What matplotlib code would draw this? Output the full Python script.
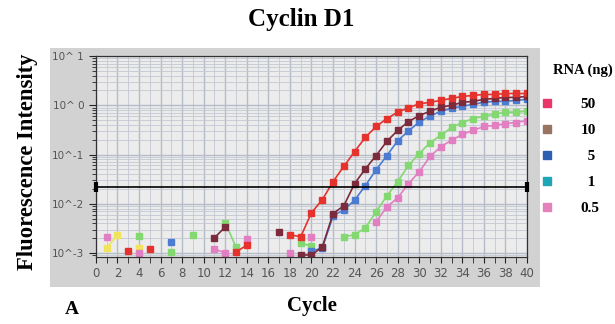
import numpy as np
import matplotlib
matplotlib.use('Agg')
import matplotlib.pyplot as plt
from matplotlib.lines import Line2D

nan = np.nan
cycles = np.arange(41)

# log10 of fluorescence, one value per cycle (nan = no point)
red_log = [nan, nan, nan, -2.96, nan, -2.92, nan, nan, nan, nan,
           nan, nan, nan, -2.98, -2.84, nan, nan, nan, -2.63, -2.67,
           -2.18, -1.92, -1.55, -1.24, -0.94, -0.65, -0.43, -0.27, -0.14, -0.05,
           0.03, 0.06, 0.10, 0.14, 0.18, 0.20, 0.22, 0.22, 0.24, 0.24, 0.24]
maroon_log = [nan, nan, nan, nan, nan, nan, nan, nan, nan, nan,
              nan, -2.69, -2.47, nan, nan, nan, nan, -2.57, nan, -3.04,
              -3.04, -2.88, -2.20, -2.04, -1.59, -1.29, -1.02, -0.73, -0.51, -0.33,
              -0.21, -0.12, -0.04, 0.00, 0.06, 0.08, 0.12, 0.14, 0.16, 0.16, 0.18]
blue_log = [nan, nan, nan, nan, nan, nan, nan, -2.78, nan, nan,
            nan, nan, nan, nan, nan, nan, nan, nan, nan, nan,
            -2.96, -2.90, -2.25, -2.12, -1.93, -1.63, -1.31, -1.02, -0.72, -0.52,
            -0.34, -0.22, -0.12, -0.06, -0.02, 0.02, 0.06, 0.08, 0.08, 0.10, 0.12]
green_log = [nan, nan, nan, nan, -2.65, nan, nan, -2.98, nan, -2.63,
             nan, nan, -2.39, -2.88, nan, nan, nan, nan, nan, -2.80,
             -2.86, nan, nan, -2.67, -2.63, -2.49, -2.16, -1.84, -1.55, -1.22,
             -0.98, -0.76, -0.61, -0.45, -0.35, -0.27, -0.22, -0.18, -0.14, -0.14, -0.12]
pink_log = [nan, -2.67, nan, nan, -3.00, nan, nan, nan, nan, nan,
            nan, -2.92, -3.00, nan, -2.71, nan, nan, nan, -3.00, nan,
            -2.67, nan, nan, nan, nan, nan, -2.37, -2.06, -1.88, -1.59,
            -1.35, -1.04, -0.84, -0.71, -0.59, -0.51, -0.43, -0.41, -0.37, -0.35, -0.31]
yellow_log = [nan, -2.90, -2.63, nan, -2.90] + [nan] * 36

threshold = 0.022
rna_labels = ['50', '10', '\u20075', '\u20071', '0.5']
legend_colors = ['#e8366a', '#9a7462', '#2f5fb0', '#1fa6b6', '#e382bb']

series = [  # drawn bottom to top
    (yellow_log, '#f1e35c'),
    (pink_log, '#e27ec2'),
    (green_log, '#84d872'),
    (blue_log, '#4c7bd2'),
    (maroon_log, '#7b2b3b'),
    (red_log, '#e6322c'),
]

fig = plt.figure(figsize=(6.15, 3.24), dpi=100)
fig.patch.set_facecolor('white')

# gray panel behind the plot
bg = fig.add_axes([0.081, 0.114, 0.797, 0.738])
bg.set_facecolor('#d2d2d2')
bg.set_xticks([])
bg.set_yticks([])
for s in bg.spines.values():
    s.set_visible(False)

ax = fig.add_axes([0.156, 0.207, 0.701, 0.62])
ax.set_facecolor('#ececec')

for vals, col in series:
    ax.plot(cycles, 10 ** np.array(vals), '-', color=col, lw=1.2,
            marker='s', ms=4.8, mec=col, mfc=col)

ax.plot([0, 40], [threshold, threshold], color='black', lw=1.2,
        marker='|', ms=7, mew=3, clip_on=False, zorder=5)

ax.set_yscale('log')
ax.set_xlim(0, 40)
ax.set_ylim(10 ** -3.08, 10)
ax.set_xticks(np.arange(0, 41, 2))
ax.set_xticks(np.arange(0, 41, 1), minor=True)
ax.set_yticks([1e-3, 1e-2, 1e-1, 1, 10])
ax.set_yticklabels(['10^-3', '10^-2', '10^-1', '10^ 0', '10^ 1'])
ax.tick_params(axis='both', which='both', colors='#222222', labelcolor='#555555', labelsize=7.5)
ax.tick_params(axis='x', which='both', length=4, direction='out')
ax.tick_params(axis='y', which='major', length=5, direction='out')
ax.tick_params(axis='y', which='minor', length=3, direction='out')
ax.tick_params(axis='x', labelsize=8.5)
ax.grid(True, which='major', color='#b5bbc8', lw=1.0)
ax.grid(True, which='minor', color='#c3c8d2', lw=0.6)
ax.set_axisbelow(True)
for s in ax.spines.values():
    s.set_color('#333333')
    s.set_linewidth(0.9)

serif = ['Liberation Serif', 'DejaVu Serif']
fig.text(0.49, 0.94, 'Cyclin D1', ha='center', va='center', family=serif,
         fontweight='bold', fontsize=18)
fig.text(0.045, 0.50, 'Fluorescence Intensity', ha='center', va='center', rotation=90,
         family=serif, fontweight='bold', fontsize=16.3)
fig.text(0.507, 0.055, 'Cycle', ha='center', va='center', family=serif,
         fontweight='bold', fontsize=15)
fig.text(0.117, 0.045, 'A', ha='center', va='center', family=serif,
         fontweight='bold', fontsize=14)
fig.text(0.947, 0.783, 'RNA (ng)', ha='center', va='center', family=serif,
         fontweight='bold', fontsize=10.5)

handles = [Line2D([], [], ls='none', marker='s', ms=6, mfc=c, mec=c) for c in legend_colors]
leg = fig.legend(handles, rna_labels, loc='upper left',
                 bbox_to_anchor=(0.855, 0.741), frameon=False, handletextpad=1.67,
                 labelspacing=0.8, handlelength=1.0,
                 prop={'family': serif, 'weight': 'bold', 'size': 11})

fig.savefig('out.png', dpi=100)
